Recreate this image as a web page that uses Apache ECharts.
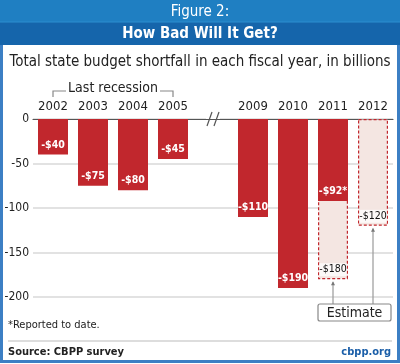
<!DOCTYPE html>
<html><head><meta charset="utf-8">
<script src="https://cdn.jsdelivr.net/npm/echarts@6/dist/echarts.min.js"></script>
<style>html,body{margin:0;padding:0;background:#fff}#c{width:400px;height:364px}</style>
</head><body><div id="c"></div>
<script>
const categories = ['2002','2003','2004','2005','','2009','2010','2011','2012'];
const reportedValues = [-40,-75,-80,-45,null,-110,-190,-92,null];
const estimateValues = [null,null,null,null,null,null,null,-180,-120];
const yTicks = [0,-50,-100,-150,-200];
const FONT = '"DejaVu Sans Condensed","Liberation Sans",Arial,sans-serif';
const RED = '#c1272d';
const chart = echarts.init(document.getElementById('c'), null, {renderer:'canvas'});
function money(v){ return '-$' + Math.abs(v); }
const option = {
  animation:false,
  grid:{left:33, right:7, top:119, bottom:67},
  xAxis:{type:'category', data:categories, position:'top',
    axisLine:{show:true, onZero:false, lineStyle:{color:'#555', width:1.2}},
    axisTick:{show:false},
    axisLabel:{interval:0, color:'#222', fontSize:13, fontFamily:FONT, margin:6}},
  yAxis:{type:'value', min:yTicks[yTicks.length-1], max:yTicks[0], interval:50,
    axisLine:{show:false}, axisTick:{show:false},
    axisLabel:{color:'#222', fontSize:12, fontFamily:FONT, margin:4},
    splitLine:{lineStyle:{color:'#d8d8d8', width:1.5}}},
  series:[
    {type:'bar', name:'Estimate', data:estimateValues, barWidth:30, barGap:'-100%',
     itemStyle:{color:'#f4e6e2', borderColor:RED, borderWidth:1.2, borderType:[3,2]},
     label:{show:true, position:'insideBottom', distance:3, color:'#111', fontSize:10.5,
       fontFamily:FONT, formatter:p=>money(p.value), backgroundColor:'rgba(255,255,255,0.75)', padding:[1,0]}},
    {type:'bar', name:'Reported', data:reportedValues, barWidth:30,
     itemStyle:{color:RED},
     label:{show:true, position:'insideBottom', distance:4, color:'#fff', fontSize:10.5,
       fontFamily:FONT, fontWeight:'bold',
       formatter:p=>money(p.value) + (p.dataIndex===7 ? '*' : '')}}
  ]
};
chart.setOption(option);
const px = (i,v)=>chart.convertToPixel({xAxisIndex:0,yAxisIndex:0},[i,v]);
const z = px(4,0);
const b2002 = px(0,0), b2005 = px(3,0);
const e2011 = px(7,estimateValues[7]), e2012 = px(8,estimateValues[8]);
const boxTop = 304;
const g = [
  {type:'rect', shape:{x:0,y:0,width:400,height:22}, style:{fill:'#1f7fc2'}},
  {type:'rect', shape:{x:0,y:22,width:400,height:23}, style:{fill:'#1565ab'}},
  {type:'line', shape:{x1:0,y1:22,x2:400,y2:22}, style:{stroke:'#2d8fd0',lineWidth:1}},
  {type:'text', x:200, y:12, style:{text:'Figure 2:', fill:'#fff', font:'15px '+FONT, align:'center', verticalAlign:'middle'}},
  {type:'text', x:200, y:34, style:{text:'How Bad Will It Get?', fill:'#fff', font:'bold 15px '+FONT, align:'center', verticalAlign:'middle'}},
  {type:'polyline', shape:{points:[[1.5,45],[1.5,361.5],[398.5,361.5],[398.5,45]]}, style:{fill:null, stroke:'#3c7fc4', lineWidth:3}},
  {type:'text', x:200, y:62, style:{text:'Total state budget shortfall in each fiscal year, in billions', fill:'#222', font:'15px '+FONT, align:'center', verticalAlign:'middle'}},
  {type:'text', x:(b2002[0]+b2005[0])/2, y:88, style:{text:'Last recession', fill:'#222', font:'14px '+FONT, align:'center', verticalAlign:'middle'}},
  {type:'polyline', shape:{points:[[b2002[0],97],[b2002[0],91],[b2002[0]+13,91]]}, style:{stroke:'#888', lineWidth:1.2, fill:null}},
  {type:'polyline', shape:{points:[[b2005[0]-13,91],[b2005[0],91],[b2005[0],97]]}, style:{stroke:'#888', lineWidth:1.2, fill:null}},
  {type:'rect', shape:{x:z[0]-7,y:z[1]-2,width:14,height:4}, style:{fill:'#fff'}},
  {type:'line', shape:{x1:z[0]-1,y1:z[1]-7,x2:z[0]-6,y2:z[1]+7}, style:{stroke:'#555', lineWidth:1.2}},
  {type:'line', shape:{x1:z[0]+6,y1:z[1]-7,x2:z[0]+1,y2:z[1]+7}, style:{stroke:'#555', lineWidth:1.2}},
  {type:'line', shape:{x1:e2011[0],y1:e2011[1]+3,x2:e2011[0],y2:boxTop}, style:{stroke:'#999', lineWidth:1.2}},
  {type:'line', shape:{x1:e2012[0],y1:e2012[1]+3,x2:e2012[0],y2:boxTop}, style:{stroke:'#999', lineWidth:1.2}},
  {type:'polygon', shape:{points:[[e2011[0]-2,e2011[1]+6],[e2011[0]+2,e2011[1]+6],[e2011[0],e2011[1]+2]]}, style:{fill:'#777'}},
  {type:'polygon', shape:{points:[[e2012[0]-2,e2012[1]+6],[e2012[0]+2,e2012[1]+6],[e2012[0],e2012[1]+2]]}, style:{fill:'#777'}},
  {type:'rect', shape:{x:e2011[0]-15,y:boxTop,width:e2012[0]-e2011[0]+33,height:17,r:2}, style:{fill:'#fff', stroke:'#888', lineWidth:1.2}},
  {type:'text', x:(e2011[0]-15 + e2012[0]+18)/2, y:boxTop+9, style:{text:'Estimate', fill:'#222', font:'14px '+FONT, align:'center', verticalAlign:'middle'}},
  {type:'text', x:8, y:325, style:{text:'*Reported to date.', fill:'#222', font:'11px '+FONT, verticalAlign:'middle'}},
  {type:'line', shape:{x1:8,y1:341,x2:392,y2:341}, style:{stroke:'#bbb', lineWidth:1.2}},
  {type:'text', x:8, y:352, style:{text:'Source: CBPP survey', fill:'#222', font:'bold 11px '+FONT, verticalAlign:'middle'}},
  {type:'text', x:391, y:352, style:{text:'cbpp.org', fill:'#1a5ea8', font:'bold 11px '+FONT, align:'right', verticalAlign:'middle'}}
];
chart.setOption({graphic:{elements:g}});
</script></body></html>
